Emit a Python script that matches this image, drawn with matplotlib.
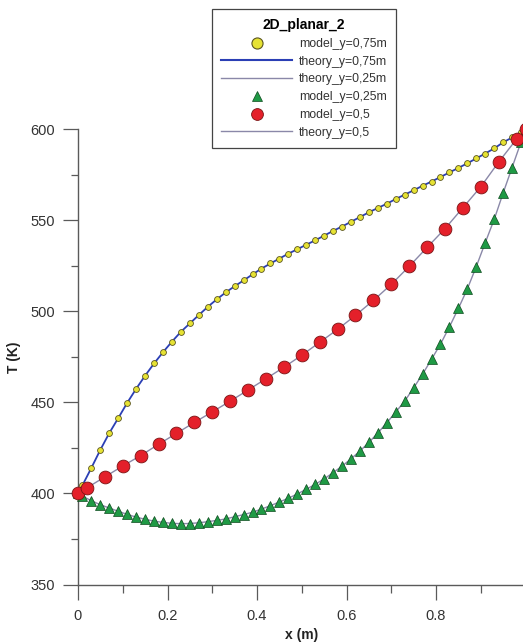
"""
Temperature profiles along x for the 2D planar case: model points and
theory curves at three heights (y = 0.25, 0.5, 0.75 m)
"""

import matplotlib
matplotlib.use("Agg")
import matplotlib.pyplot as plt
from matplotlib.lines import Line2D
from matplotlib.ticker import MultipleLocator, FuncFormatter

# y = 0.75 m (fine grid)
x_fine = [0.0, 0.01, 0.03, 0.05, 0.07, 0.09, 0.11, 0.13, 0.15, 0.17,
          0.19, 0.21, 0.23, 0.25, 0.27, 0.29, 0.31, 0.33, 0.35, 0.37,
          0.39, 0.41, 0.43, 0.45, 0.47, 0.49, 0.51, 0.53, 0.55, 0.57,
          0.59, 0.61, 0.63, 0.65, 0.67, 0.69, 0.71, 0.73, 0.75, 0.77,
          0.79, 0.81, 0.83, 0.85, 0.87, 0.89, 0.91, 0.93, 0.95, 0.97,
          0.99, 1.0]
T_y075 = [400.0, 404.5, 414.1, 424.0, 433.2, 441.4, 449.8, 457.5, 464.7, 471.4,
          477.6, 483.4, 488.8, 493.4, 498.0, 502.5, 506.6, 510.4, 513.8, 517.0,
          520.3, 523.5, 526.3, 529.0, 531.7, 534.1, 536.6, 539.0, 541.6, 544.2,
          546.6, 549.2, 551.8, 554.4, 556.8, 559.1, 561.7, 564.1, 566.5, 569.0,
          571.3, 573.8, 576.3, 578.8, 581.3, 584.0, 586.7, 589.5, 592.8, 595.5,
          598.5, 600.0]

# y = 0.25 m (fine grid)
T_y025 = [400.0, 398.5, 396.0, 393.8, 392.0, 390.2, 388.5, 387.0, 385.8, 384.8,
          384.1, 383.6, 383.4, 383.5, 383.9, 384.5, 385.2, 386.0, 387.2, 388.4,
          389.7, 391.4, 393.3, 395.3, 397.4, 399.7, 402.3, 405.0, 408.0, 411.4,
          415.0, 419.0, 423.3, 428.0, 433.2, 438.8, 444.7, 450.7, 458.0, 465.5,
          473.7, 482.0, 491.5, 501.6, 512.3, 524.6, 537.7, 550.5, 565.0, 579.0,
          593.0, 600.0]

# y = 0.5 m (coarse grid)
x_coarse = [0.0, 0.02, 0.06, 0.10, 0.14, 0.18, 0.22, 0.26, 0.30, 0.34,
            0.38, 0.42, 0.46, 0.50, 0.54, 0.58, 0.62, 0.66, 0.70, 0.74,
            0.78, 0.82, 0.86, 0.90, 0.94, 0.98, 1.0]
T_y05 = [400.0, 403.1, 409.1, 415.1, 420.8, 427.0, 433.0, 439.0, 444.8, 450.7,
         456.8, 463.0, 469.3, 475.9, 483.0, 490.1, 497.8, 506.0, 514.8, 524.7,
         535.1, 545.4, 556.9, 568.4, 582.0, 594.6, 600.0]

x_ticks = [0, 0.2, 0.4, 0.6, 0.8, 1.0]
y_ticks = [350, 400, 450, 500, 550, 600]

W, H = 523, 644
FONT = ["Liberation Sans", "DejaVu Sans"]

YELLOW = "#e6e234"
YELLOW_EDGE = "#5a5520"
RED = "#e4202a"
RED_EDGE = "#7a1414"
GREEN = "#1f9a45"
GREEN_EDGE = "#0e4a1e"
BLUE = "#2b3fb5"
GRAY = "#8a88a8"
AXIS = "#5a5a5a"

plt.rcParams["font.family"] = FONT

fig = plt.figure(figsize=(W / 100, H / 100), dpi=100)
fig.patch.set_facecolor("white")

# axes placed in pixel terms; x = 1 sits just past the right edge
left, right = 78, 525.5
top, bottom = 129.3, 584.5
ax = fig.add_axes([left / W, 1 - bottom / H, (right - left) / W, (bottom - top) / H])

# theory curves
ax.plot(x_fine, T_y025, color=GRAY, lw=1.0, zorder=2)
ax.plot(x_coarse, T_y05, color=GRAY, lw=1.0, zorder=2)
ax.plot(x_fine, T_y075, color=BLUE, lw=1.3, zorder=2)

# model points
ax.plot(x_fine, T_y075, ls="none", marker="o", ms=4.2, mfc=YELLOW,
        mec=YELLOW_EDGE, mew=0.6, zorder=3, clip_on=False)
ax.plot(x_fine, T_y025, ls="none", marker="^", ms=7.2, mfc=GREEN,
        mec=GREEN_EDGE, mew=0.5, zorder=4, clip_on=False)
ax.plot(x_coarse, T_y05, ls="none", marker="o", ms=9.2, mfc=RED,
        mec=RED_EDGE, mew=0.6, zorder=5, clip_on=False)

ax.set_xlim(0, 1)
ax.set_ylim(350, 600)

for s in ["top", "right"]:
    ax.spines[s].set_visible(False)
for s in ["left", "bottom"]:
    ax.spines[s].set_color(AXIS)
    ax.spines[s].set_linewidth(1.0)

ax.set_xticks(x_ticks)
ax.set_yticks(y_ticks)
ax.xaxis.set_minor_locator(MultipleLocator(0.1))
ax.yaxis.set_minor_locator(MultipleLocator(25))
ax.xaxis.set_major_formatter(FuncFormatter(lambda v, p: "%g" % v))

ax.tick_params(which="major", direction="out", length=10.8, width=0.9,
               color=AXIS, labelsize=10.5, labelcolor="#333333")
ax.tick_params(which="minor", direction="out", length=5.4, width=0.9,
               color=AXIS)
ax.tick_params(axis="y", which="major", pad=5.5)
ax.tick_params(axis="x", which="major", pad=6.5)

ax.set_xlabel("x (m)", fontsize=10, fontweight="bold", color="#222222",
              labelpad=4)
ax.set_ylabel("T (K)", fontsize=10, fontweight="bold", color="#222222",
              labelpad=7)

# legend with its own proxy handles
handles = [
    Line2D([], [], ls="none", marker="o", ms=8, mfc=YELLOW, mec=YELLOW_EDGE, mew=0.8),
    Line2D([], [], color=BLUE, lw=1.5),
    Line2D([], [], color=GRAY, lw=1.0),
    Line2D([], [], ls="none", marker="^", ms=7, mfc=GREEN, mec=GREEN_EDGE, mew=0.5),
    Line2D([], [], ls="none", marker="o", ms=8.5, mfc=RED, mec=RED_EDGE, mew=0.6),
    Line2D([], [], color=GRAY, lw=1.0),
]
labels = ["model_y=0,75m", "theory_y=0,75m", "theory_y=0,25m",
          "model_y=0,25m", "model_y=0,5", "theory_y=0,5"]

leg = fig.legend(handles, labels, title="2D_planar_2",
                 loc="upper left", bbox_to_anchor=(212 / W, 1 - 9 / H),
                 frameon=True, fancybox=False, framealpha=1,
                 edgecolor="#444444", fontsize=8.8,
                 title_fontproperties={"weight": "bold", "size": 10},
                 handlelength=5.8, handletextpad=0.55, labelspacing=0.47,
                 borderpad=0.75, borderaxespad=0)
leg.get_frame().set_linewidth(0.9)
for t in leg.get_texts():
    t.set_color("#333333")

fig.savefig("out.png", dpi=100)
